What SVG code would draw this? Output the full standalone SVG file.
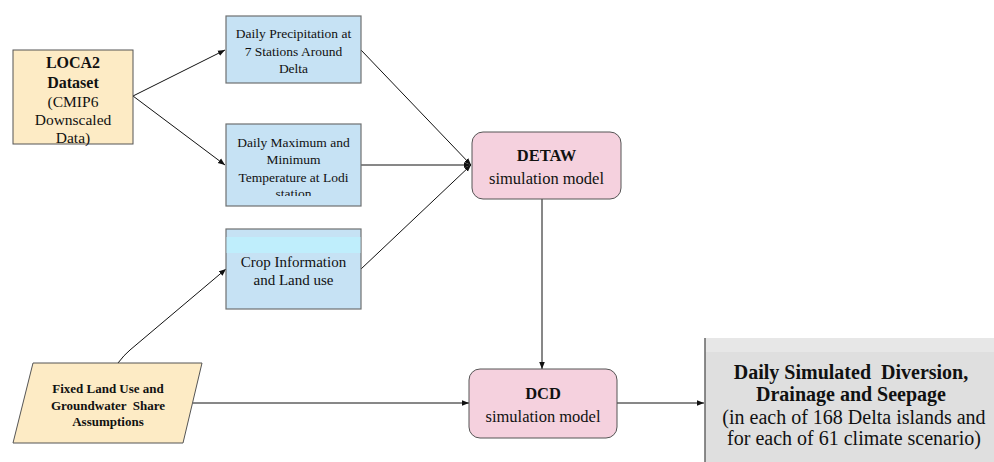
<svg xmlns="http://www.w3.org/2000/svg" width="994" height="462" viewBox="0 0 994 462">
<style>
text{font-family:"Liberation Serif","Times New Roman",serif;fill:#111;text-anchor:middle;dominant-baseline:central}
.b{font-weight:bold}
.blue{fill:#c6e2f4;stroke:#6e7070;stroke-width:1.2}
.beige{fill:#fdebc5;stroke:#555;stroke-width:1}
.pink{fill:#f5d1de;stroke:#555;stroke-width:1}
.ln{stroke:#111;stroke-width:1;fill:none;marker-end:url(#ah)}
</style>
<defs>
<marker id="ah" viewBox="0 0 10 10" refX="10" refY="5" markerWidth="7" markerHeight="7" markerUnits="userSpaceOnUse" orient="auto">
<path d="M0,1 L10,5 L0,9 z" fill="#111"/>
</marker>
<clipPath id="tclip"><rect x="226" y="124" width="135" height="72"/></clipPath>
</defs>
<rect width="994" height="462" fill="#fff"/>
<g id="connectors">
<line class="ln" x1="133" y1="96" x2="225" y2="50"/>
<line class="ln" x1="133" y1="96" x2="225" y2="165"/>
<line class="ln" x1="361" y1="50" x2="471" y2="165"/>
<line class="ln" x1="361" y1="165" x2="471" y2="165"/>
<line class="ln" x1="361" y1="269" x2="471" y2="165"/>
<path class="ln" d="M118,363 Q124,355 130,350 L226,269"/>
<line class="ln" x1="542" y1="199" x2="542" y2="369"/>
<line class="ln" x1="193" y1="403" x2="469" y2="403"/>
<line class="ln" x1="617" y1="403" x2="704" y2="403"/>
</g>
<g id="loca2">
<rect class="beige" x="13" y="50" width="120" height="94"/>
<text class="b" x="73" y="62" font-size="16">LOCA2</text>
<text class="b" x="73" y="82" font-size="16">Dataset</text>
<text x="73" y="101" font-size="15.5">(CMIP6</text>
<text x="73" y="119" font-size="15.5">Downscaled</text>
<text x="73" y="137" font-size="15.5">Data)</text>
</g>
<g id="precip">
<rect class="blue" x="226" y="16" width="135" height="67"/>
<text x="293.5" y="33" font-size="13.5">Daily Precipitation at</text>
<text x="293.5" y="51" font-size="13.5">7 Stations Around</text>
<text x="293.5" y="68" font-size="13.5">Delta</text>
</g>
<g id="temp">
<rect class="blue" x="226" y="124" width="135" height="82"/>
<g clip-path="url(#tclip)">
<text x="293.5" y="142" font-size="13.5">Daily Maximum and</text>
<text x="293.5" y="159" font-size="13.5">Minimum</text>
<text x="293.5" y="177" font-size="13.5">Temperature at Lodi</text>
<text x="293.5" y="193" font-size="13.5">station</text>
</g>
</g>
<g id="crop">
<rect class="blue" x="226" y="229" width="135" height="80"/>
<rect x="226.6" y="237" width="133.8" height="16" fill="#bfeefc"/>
<text x="293.5" y="262" font-size="15">Crop Information</text>
<text x="293.5" y="280" font-size="15">and Land use</text>
</g>
<g id="fixed">
<polygon class="beige" points="33,363 202,363 183,443 13,443"/>
<text class="b" x="108" y="388" font-size="13">Fixed Land Use and</text>
<text class="b" x="108" y="405" font-size="13" xml:space="preserve">Groundwater  Share</text>
<text class="b" x="108" y="421" font-size="13">Assumptions</text>
</g>
<g id="detaw">
<rect class="pink" x="472" y="132" width="149" height="67" rx="11"/>
<text class="b" x="546.5" y="155" font-size="16.5">DETAW</text>
<text x="546.5" y="178" font-size="16.5">simulation model</text>
</g>
<g id="dcd">
<rect class="pink" x="469" y="369" width="148" height="69" rx="11"/>
<text class="b" x="543" y="393" font-size="16.5">DCD</text>
<text x="543" y="416" font-size="16.5">simulation model</text>
</g>
<g id="output">
<rect x="705" y="338" width="300" height="130" fill="#dfdfdf"/>
<rect x="705" y="338" width="300" height="14" fill="#e7e7e7"/>
<line x1="705" y1="338" x2="705" y2="462" stroke="#666" stroke-width="1.5"/>
<text class="b" x="851" y="372" font-size="20" xml:space="preserve">Daily Simulated  Diversion,</text>
<text class="b" x="851" y="394" font-size="20">Drainage and Seepage</text>
<text x="854" y="417" font-size="20">(in each of 168 Delta islands and</text>
<text x="854" y="438" font-size="20">for each of 61 climate scenario)</text>
</g>
</svg>
